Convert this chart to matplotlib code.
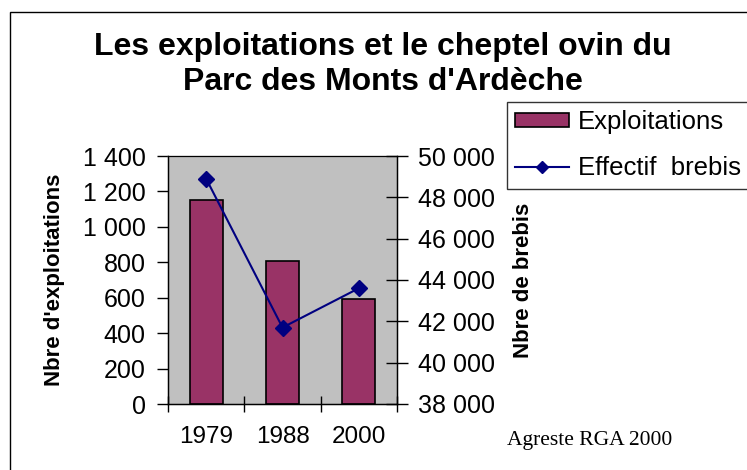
import matplotlib.pyplot as plt
from matplotlib.patches import Rectangle
from matplotlib.ticker import FuncFormatter, FixedLocator

# data
years = ["1979", "1988", "2000"]
exploitations = [1150, 810, 590]
brebis = [48900, 41700, 43600]

plt.rcParams['font.family'] = ['Liberation Sans', 'DejaVu Sans']

def spaced(v, pos):
    return f"{int(v):,}".replace(",", " ")

fig = plt.figure(figsize=(7.47, 4.70), dpi=100)

# frame round the chart (only left/top visible)
fig.patches.append(Rectangle((10 / 747, -0.1), 1.2, 1 - 12 / 470 + 0.1,
                             transform=fig.transFigure, fill=False,
                             edgecolor='black', lw=1.0))

ax = fig.add_axes([168 / 747, 1 - 404 / 470, 229 / 747, 248 / 470])
ax.set_facecolor('#C0C0C0')
x = range(len(years))
bars = ax.bar(x, exploitations, width=0.43, color='#993366',
              edgecolor='black', lw=1.2, label='Exploitations', zorder=2)
ax.set_xlim(-0.5, 2.5)
ax.set_ylim(0, 1400)
ax.set_yticks(range(0, 1401, 200))
ax.yaxis.set_major_formatter(FuncFormatter(spaced))
ax.set_xticks(list(x))
ax.set_xticklabels(years)
ax.xaxis.set_minor_locator(FixedLocator([-0.5, 0.5, 1.5, 2.5]))
ax.tick_params(axis='x', which='major', length=0, labelsize=17.5, pad=16)
ax.tick_params(axis='x', which='minor', direction='inout', length=12, width=1)
ax.tick_params(axis='y', direction='out', length=8, width=1, labelsize=18, pad=8)
ax.set_ylabel("Nbre d'exploitations", fontsize=16, fontweight='bold', labelpad=13)
for s in ax.spines.values():
    s.set_color('black')
    s.set_linewidth(1.0)
ax.spines['top'].set_color('#808080')

ax2 = ax.twinx()
line, = ax2.plot(x, brebis, color='#000080', lw=1.5, marker='D',
                 markersize=8.5, label='Effectif  brebis', zorder=3)
ax2.set_ylim(38000, 50000)
ax2.set_yticks(range(38000, 50001, 2000))
ax2.yaxis.set_major_formatter(FuncFormatter(spaced))
ax2.tick_params(axis='y', direction='inout', length=16, width=1, labelsize=18, pad=7)
ax2.set_ylabel("Nbre de brebis", fontsize=16, fontweight='bold', labelpad=13)

fig.text(383 / 747, 1 - 47 / 470, "Les exploitations et le cheptel ovin du",
         ha='center', va='center', fontsize=23, fontweight='bold')
fig.text(383 / 747, 1 - 82 / 470, "Parc des Monts d'Ardèche",
         ha='center', va='center', fontsize=23, fontweight='bold')

leg = fig.legend([bars, line], ['Exploitations', 'Effectif  brebis'],
                 loc='upper left', bbox_to_anchor=(507 / 747, 1 - 102 / 470),
                 fontsize=18.5, frameon=True, fancybox=False, borderpad=0.32,
                 borderaxespad=0, handlelength=2.1, handleheight=0.5,
                 handletextpad=0.35, labelspacing=0.86, markerscale=0.75)
leg.get_frame().set_edgecolor('black')
leg.get_frame().set_linewidth(1.0)

fig.text(507 / 747, 1 - 441 / 470, "Agreste RGA 2000", ha='left', va='center',
         fontsize=15.5, family='Liberation Serif')

fig.savefig('out.png', dpi=100)
